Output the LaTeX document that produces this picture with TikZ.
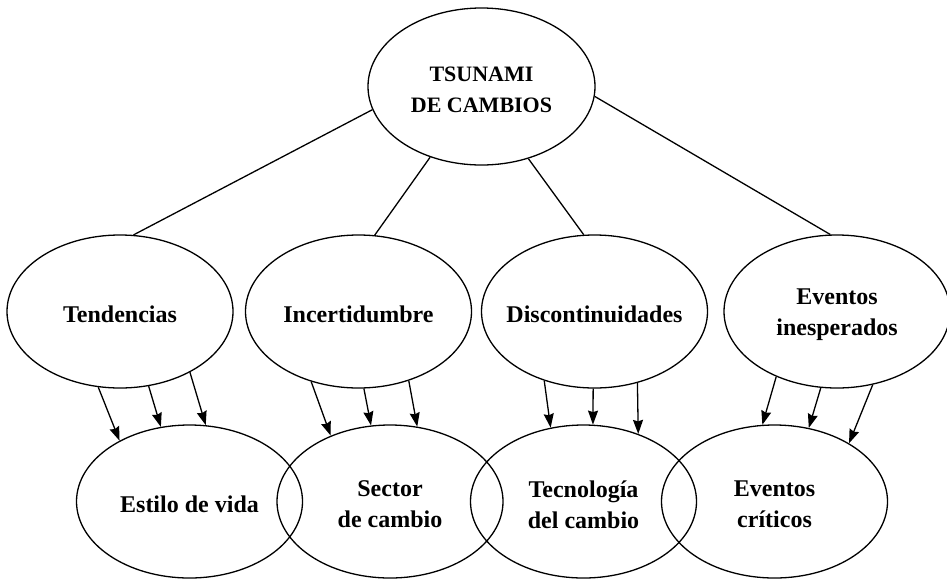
\documentclass[tikz,border=0pt]{standalone}
\usepackage{fontspec}
\setmainfont{Liberation Serif}
\usetikzlibrary{arrows.meta,shapes.geometric}
\begin{document}
\begin{tikzpicture}[x=1pt,y=-1pt,
  ell/.style={draw, ellipse, line width=1.3pt, inner sep=0pt, minimum width=226pt, minimum height=153pt},
  lbl/.style={font=\bfseries\fontsize{24}{31}\selectfont, align=center, inner sep=0pt, yshift=-3pt},
  toplbl/.style={font=\bfseries\fontsize{22}{31}\selectfont, align=center, inner sep=0pt, yshift=-3pt},
  link/.style={line width=1.3pt},
  arr/.style={line width=1.3pt, -{Stealth[length=14pt,width=10pt,inset=1.5pt]}}]
\useasboundingbox (0,0) rectangle (947,579);
% top
\node[ell, minimum width=227pt, minimum height=157pt,
  label={[toplbl]center:{TSUNAMI\\DE CAMBIOS}}] (top) at (481.5,86.5) {};
% middle row
\node[ell, label={[lbl]center:Tendencias}] (T) at (120,311.5) {};
\node[ell, label={[lbl]center:Incertidumbre}] (I) at (358.5,311.5) {};
\node[ell, label={[lbl]center:Discontinuidades}] (D) at (594.5,311.5) {};
\node[ell, label={[lbl]center:{Eventos\\inesperados}}] (E) at (837,311.5) {};
% bottom row
\node[ell, label={[lbl]center:Estilo de vida}] (S1) at (189.5,501.5) {};
\node[ell, label={[lbl]center:{Sector\\de cambio}}] (S2) at (390,501.5) {};
\node[ell, label={[lbl]center:{Tecnología\\del cambio}}] (S3) at (583.5,501.5) {};
\node[ell, label={[lbl]center:{Eventos\\críticos}}] (S4) at (774.5,501.5) {};
% links from top
\draw[link] (top.192) -- (T.80);
\draw[link] (top.-126) -- (I.78.5);
\draw[link] (top.-57) -- (D.98.5);
\draw[link] (top.-5.8) -- (E.95);
% arrows
\draw[arr] (T.-106.7) -- (S1.139.4);
\draw[arr] (T.-69.9) -- (S1.111.1);
\draw[arr] (T.-41) -- (S1.78.5);
\draw[arr] (I.-124.2) -- (S2.132.5);
\draw[arr] (I.-86.8) -- (S2.104.7);
\draw[arr] (I.-54.2) -- (S2.70.3);
\draw[arr] (D.-126.1) -- (S3.114.5);
\draw[arr] (D.-91) -- (S3.83.1);
\draw[arr] (D.-59.4) -- (S3.51.5);
\draw[arr] (E.-133.4) -- (S4.99.3);
\draw[arr] (E.-102.5) -- (S4.65.5);
\draw[arr] (E.-64.5) -- (S4.38.5);
\end{tikzpicture}
\end{document}
